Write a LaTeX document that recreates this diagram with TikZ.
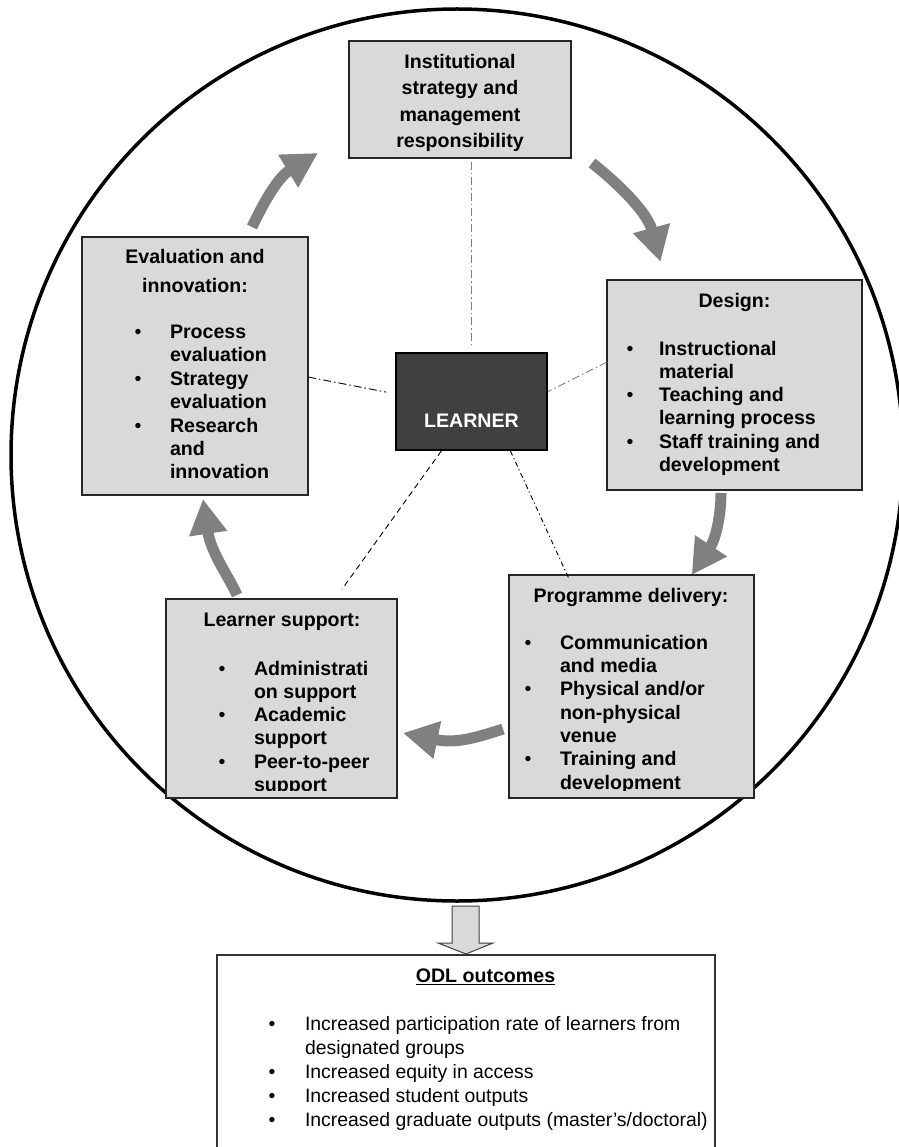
\documentclass[tikz,border=0pt]{standalone}
\usepackage{fontspec}
\setmainfont{Liberation Sans}
\usetikzlibrary{arrows.meta}
\definecolor{boxfill}{HTML}{D9D9D9}
\definecolor{learnerfill}{HTML}{404040}
\definecolor{flowgray}{HTML}{808080}
\definecolor{linkgray}{HTML}{7F7F7F}
\newcommand\txtlines[7]{%
  \foreach \ltext [count=\li from 0] in {#7}{%
    \node[#2, anchor=#3] (#1-\li) at (#4, {#5+#6*\li}) {\ltext};}}
\newcommand\bulletsat[4]{%
  \foreach \by [count=\bi] in {#3}{%
    \node[#4, anchor=base] (#1-b\bi) at (#2, \by) {\textbullet};}}
\newcommand\ulbox[1]{\setbox0\hbox{#1}\rlap{\rule[-3.2pt]{\wd0}{1.3pt}}\box0}
\begin{document}
\begin{tikzpicture}[x=1pt, y=-1pt,
  box/.style={draw=black!85, line width=1.2pt, fill=boxfill, inner sep=0pt, outer sep=0pt, anchor=north west},
  bt/.style={inner sep=0pt, outer sep=0pt, font=\fontsize{19.6pt}{23pt}\selectfont\bfseries},
  rt/.style={inner sep=0pt, outer sep=0pt, font=\fontsize{19.4pt}{24pt}\selectfont},
  bul/.style={inner sep=0pt, outer sep=0pt, font=\fontsize{19.6pt}{23pt}\selectfont},
  flow/.style={draw=flowgray, line width=11pt, -{Triangle[length=35pt, width=36pt]}},
  lnkgray/.style={draw=linkgray, line width=0.9pt, dash pattern=on 8pt off 3pt on 1.5pt off 3pt},
  lnkblack/.style={draw=black, line width=0.9pt, dash pattern=on 8pt off 3pt on 1.5pt off 3pt},
  lnkdash/.style={draw=black, line width=0.9pt, dash pattern=on 6pt off 4pt},
  lnkdot/.style={draw=black, line width=0.9pt, dash pattern=on 5pt off 3pt on 1.2pt off 3pt},
  blockarrow/.style={draw=black!75, line width=1pt, fill=boxfill, line join=miter}
]
\useasboundingbox (0,0) rectangle (898,1147);
% outer circle
\draw[line width=3.5pt] (457,455) circle[radius=446pt];

% boxes
\node[box, minimum width=222pt, minimum height=117pt] (inst) at (349,41) {};
\node[box, minimum width=226pt, minimum height=258pt] (eval) at (82,237) {};
\node[box, minimum width=255pt, minimum height=210pt] (design) at (607,280) {};
\node[box, minimum width=245pt, minimum height=223pt] (deliv) at (509,575) {};
\node[box, minimum width=231pt, minimum height=199pt] (supp) at (166,599) {};
\node[box, fill=learnerfill, draw=black, minimum width=151pt, minimum height=97pt] (learner) at (396,353) {};
\node[box, fill=white, draw=black!80, minimum width=498pt, minimum height=230pt] (odl) at (217,955) {};

% texts
\txtlines{instt}{bt}{base}{460}{68.5}{26.3}{Institutional, strategy and, management, responsibility}
\txtlines{evalh}{bt}{base}{195}{264}{28}{Evaluation and, innovation:}
\txtlines{evalt}{bt}{base west}{170}{338.5}{23.4}{Process, evaluation, Strategy, evaluation, Research, and, innovation}
\bulletsat{evalt}{138}{338.5,385.3,432.1}{bul}
\node[bt, anchor=base] (desh) at (734.5,307) {Design:};
\txtlines{dest}{bt}{base west}{659}{355}{23.3}{Instructional, material, Teaching and, learning process, Staff training and, development}
\bulletsat{dest}{630}{355,401.6,448.2}{bul}
\node[bt, anchor=base] (delh) at (631,602) {Programme delivery:};
\node[bt, anchor=base] (suph) at (282,626) {Learner support:};
\begin{scope}
  \clip (0,0) rectangle (898,790.5);
  \txtlines{delt}{bt}{base west}{560}{649.3}{23.3}{Communication, and media, {Physical and/or}, non-physical, venue, Training and, development}
  \bulletsat{delt}{528}{649.3,695.9,765.8}{bul}
  \txtlines{supt}{bt}{base west}{254}{675}{23.3}{Administrati, on support, Academic, support, Peer-to-peer, support}
  \bulletsat{supt}{222}{675,721.6,768.2}{bul}
\end{scope}
\node[bt, anchor=base, text=white] (learnert) at (471.5,427.7) {LEARNER};
\node[inner sep=0pt, font=\fontsize{19.6pt}{24pt}\selectfont\bfseries, anchor=base] (odlh) at (485.5,982) {\ulbox{ODL outcomes}};
\txtlines{odlt}{rt}{base west}{305}{1030}{24}{Increased participation rate of learners from, designated groups, Increased equity in access, Increased student outputs, {Increased graduate outputs (master’s/doctoral)}}
\bulletsat{odlt}{272}{1030,1078,1102,1126}{rt}

% links to the learner
\draw[lnkgray, shorten <=4pt, shorten >=6pt] (learner.north |- inst.south) -- (learner.north);
\draw[lnkblack, shorten >=10pt] ([yshift=-11pt]eval.east) -- ([yshift=7.5pt]learner.west);
\draw[lnkgray, shorten >=1pt] ([yshift=23pt]design.west) -- ([yshift=9.5pt]learner.east);
\draw[lnkdash, shorten <=1pt, shorten >=12pt] ([xshift=-29.5pt]learner.south) -- ([xshift=53.5pt]supp.north);
\draw[lnkdot, shorten <=1pt] ([xshift=38.5pt]learner.south) -- ([xshift=-62pt,yshift=-5pt]deliv.north);

% cycle arrows
\draw[flow] ([xshift=57pt,yshift=10pt]eval.north) .. controls +(6.5,-13.5) and +(-42.7,25.9) .. ([xshift=-31pt,yshift=-53.5pt]inst.west);
\draw[flow] ([xshift=21pt,yshift=-5pt]inst.south east) .. controls +(15.5,12) and +(-14.3,-53.4) .. ([xshift=-74pt,yshift=18pt]design.north);
\draw[flow] ([xshift=-13.5pt,yshift=-3pt]design.south) .. controls +(0,20) and +(24.8,-37.4) .. ([xshift=60.2pt]deliv.north);
\draw[flow] ([xshift=-6pt,yshift=-42.5pt]deliv.west) .. controls +(-25,8) and +(54,11) .. ([xshift=6pt,yshift=-34.5pt]supp.east);
\draw[flow] ([xshift=-44.5pt,yshift=4pt]supp.north) .. controls +(-8,-18) and +(8,54) .. ([xshift=8pt,yshift=-4pt]eval.south);

% block arrow to outcomes
\begin{scope}[shift={(odl.north)}]
  \draw[blockarrow] (-14,-49) -- (13,-49) -- (13,-12) -- (27,-12) -- (0,-1) -- (-28,-12) -- (-14,-12) -- cycle;
\end{scope}
\end{tikzpicture}
\end{document}
